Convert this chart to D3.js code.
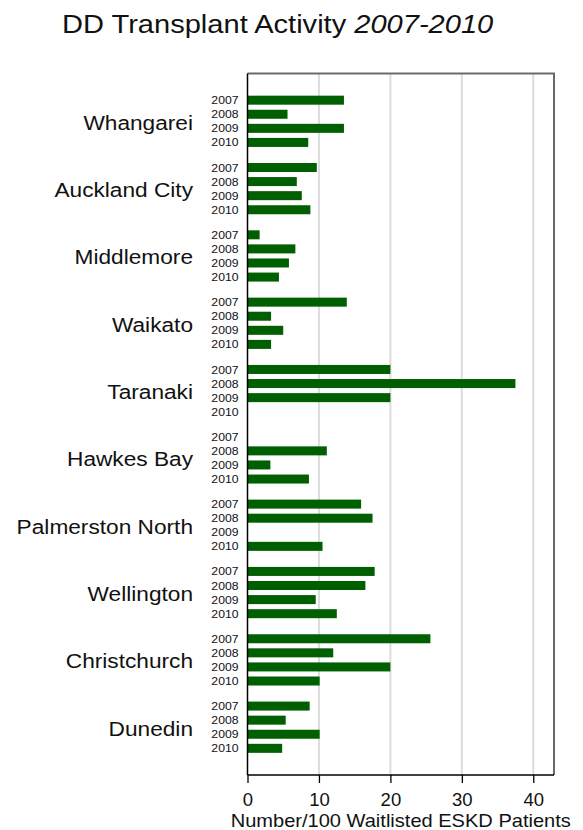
<!DOCTYPE html>
<html>
<head>
<meta charset="utf-8">
<script src="https://cdn.jsdelivr.net/npm/d3@7"></script>
<style>
  body { margin: 0; background: #fff; }
  text { font-family: "Liberation Sans", Arial, sans-serif; fill: #111; }
</style>
</head>
<body>
<svg width="583" height="830"></svg>
<script>
const regions = ["Whangarei", "Auckland City", "Middlemore", "Waikato", "Taranaki",
    "Hawkes Bay", "Palmerston North", "Wellington", "Christchurch", "Dunedin"];
const years = ["2007", "2008", "2009", "2010"];
const v2007 = [13.5, 9.7, 1.7, 13.9, 20.0, 0, 15.9, 17.8, 25.6, 8.7];
const v2008 = [5.6, 6.9, 6.7, 3.3, 37.5, 11.1, 17.5, 16.5, 12.0, 5.35];
const v2009 = [13.5, 7.6, 5.8, 5.0, 20.0, 3.2, 0, 9.55, 20.0, 10.1];
const v2010 = [8.5, 8.8, 4.4, 3.3, 0, 8.6, 10.5, 12.5, 10.1, 4.85];
const xTicks = [0, 10, 20, 30, 40];

const series = [v2007, v2008, v2009, v2010];
const rows = [];
regions.forEach((r, i) => years.forEach((y, j) => rows.push({ region: r, year: y, value: series[j][i] })));

const svg = d3.select("svg");
const plotL = 247.5, plotR = 554, plotT = 73.5, plotB = 775;

const x = d3.scaleLinear().domain([0, 42.9]).range([plotL, plotR]);
const yGroup = d3.scaleBand().domain(regions).range([plotT, plotB]).paddingInner(0).paddingOuter(0.21);
const yYear = d3.scaleBand().domain(years).range([0, yGroup.bandwidth()]).paddingInner(0.36).paddingOuter(0.57);

// horizontal stretch used for all labels
function stretch(sel, sx) {
    sel.attr("transform", function () {
        const t = d3.select(this);
        return `translate(${t.attr("data-x")},${t.attr("data-y")}) scale(${sx},1)`;
    });
}

// title
const title = svg.append("text").attr("data-x", 62).attr("data-y", 33)
    .style("font-size", "25.5px");
title.append("tspan").text("DD Transplant Activity ");
title.append("tspan").style("font-style", "italic").text("2007-2010");
stretch(title, 1.14);

// gridlines
svg.append("g").selectAll("line")
    .data(xTicks.filter(d => d > 0))
    .join("line")
    .attr("x1", d => x(d)).attr("x2", d => x(d))
    .attr("y1", plotT).attr("y2", plotB)
    .attr("stroke", "#dcdcdc").attr("stroke-width", 2);

// bars
svg.append("g").selectAll("rect")
    .data(rows.filter(d => d.value > 0))
    .join("rect")
    .attr("x", x(0))
    .attr("y", d => yGroup(d.region) + yYear(d.year))
    .attr("width", d => x(d.value) - x(0))
    .attr("height", yYear.bandwidth())
    .attr("fill", "#005f00");

// year labels
svg.append("g").selectAll("text")
    .data(rows)
    .join("text")
    .attr("data-x", 238.5)
    .attr("data-y", d => yGroup(d.region) + yYear(d.year) + yYear.bandwidth() / 2)
    .attr("dy", "0.36em")
    .attr("text-anchor", "end")
    .style("font-size", "11.3px")
    .text(d => d.year)
    .call(stretch, 1.08);

// region labels
svg.append("g").selectAll("text")
    .data(regions)
    .join("text")
    .attr("data-x", 193)
    .attr("data-y", d => yGroup(d) + yGroup.bandwidth() / 2)
    .attr("dy", "0.4em")
    .attr("text-anchor", "end")
    .style("font-size", "21px")
    .text(d => d)
    .call(stretch, 1.08);

// frame: top and right grey
svg.append("path")
    .attr("d", `M${plotL},${plotT}H${plotR}V${plotB}`)
    .attr("fill", "none").attr("stroke", "#6a6a6a").attr("stroke-width", 2);

// left axis
svg.append("line")
    .attr("x1", plotL).attr("x2", plotL).attr("y1", plotT).attr("y2", plotB)
    .attr("stroke", "#000").attr("stroke-width", 1.5);

// bottom axis
const xAxis = d3.axisBottom(x).tickValues(xTicks).tickSize(8).tickSizeOuter(0).tickPadding(5);
const xAxisG = svg.append("g").attr("transform", `translate(0,${plotB})`).call(xAxis);
xAxisG.attr("font-family", null).attr("font-size", null);
xAxisG.select(".domain").attr("d", `M${plotL},0H${plotR}`).attr("stroke", "#000").attr("stroke-width", 1.5);
xAxisG.selectAll(".tick line").attr("stroke", "#000").attr("stroke-width", 1.3);
xAxisG.selectAll(".tick text")
    .attr("dy", null)
    .attr("y", 30.5)
    .style("font-size", "18.5px");

// axis title
const axTitle = svg.append("text").attr("data-x", (plotL + plotR) / 2).attr("data-y", 826.5)
    .attr("text-anchor", "middle")
    .style("font-size", "18.4px")
    .text("Number/100 Waitlisted ESKD Patients");
stretch(axTitle, 1.09);
</script>
</body>
</html>
